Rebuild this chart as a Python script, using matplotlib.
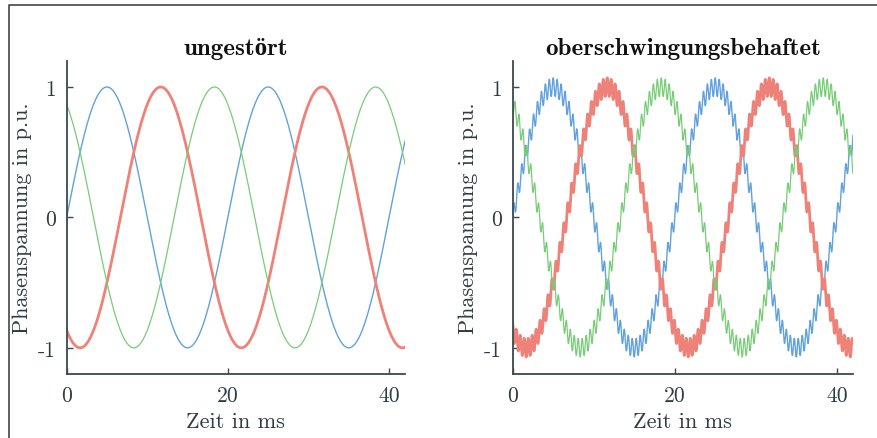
import numpy as np
import matplotlib.pyplot as plt
from matplotlib.lines import Line2D

plt.rcParams['axes.unicode_minus'] = False

# three-phase voltages, 50 Hz
f_netz = 50.0                      # Hz
phasen_grad = [0, 120, -120]       # blau, rot, gruen (Nacheilung)
farben = ['#62a2dc', '#ee8278', '#78cc78']
breiten = [1.0, 2.0, 0.9]
# harmonic ripple in the right plot
ow_ordnung = 41
ow_amplitude = 0.07

titel = ['ungestört', 'oberschwingungsbehaftet']
xticks = [0, 20, 40]
yticks = [-1, 0, 1]

t = np.linspace(0, 42, 6000)  # ms
w = 2 * np.pi * f_netz / 1000.0

fig = plt.figure(figsize=(8.77, 4.39), dpi=100)

rahmen = Line2D([0.0108, 0.0108, 1.0], [0.0, 0.986, 0.986], transform=fig.transFigure,
                color='#444444', lw=1.2)
fig.add_artist(rahmen)

textfarbe = '#2e3b40'
fam = ['cmr10', 'DejaVu Serif']
famb = ['cmb10', 'Liberation Serif']

positionen = [[0.076, 0.146, 0.386, 0.713], [0.5846, 0.146, 0.388, 0.713]]

for i, pos in enumerate(positionen):
    ax = fig.add_axes(pos)
    for phi, c, lw in zip(phasen_grad, farben, breiten):
        x = w * t - np.deg2rad(phi)
        u = np.sin(x)
        if i == 1:
            u = u + ow_amplitude * np.sin(ow_ordnung * x)
        ax.plot(t, u, color=c, lw=lw)
    ax.set_xlim(0, 42)
    ax.set_ylim(-1.2, 1.2)
    ax.set_xticks(xticks)
    ax.set_yticks(yticks)
    ax.spines['top'].set_visible(False)
    ax.spines['right'].set_visible(False)
    for s in ['left', 'bottom']:
        ax.spines[s].set_color('#3a4a4f')
        ax.spines[s].set_linewidth(1.3)
    ax.tick_params(direction='in', length=4, width=1, color='#3a4a4f',
                   labelcolor=textfarbe, labelsize=15.5, pad=8)
    for lab in ax.get_xticklabels() + ax.get_yticklabels():
        lab.set_family(fam)
    ax.set_xlabel('Zeit in ms', family=fam, fontsize=16, color=textfarbe, labelpad=5)
    ax.set_ylabel('Phasenspannung in p.u.', family=fam, fontsize=16, color=textfarbe, labelpad=4)
    ax.set_title(titel[i], family=famb, fontweight='bold', fontsize=18, color='#111111', pad=5)

fig.savefig('out.png', dpi=100)
